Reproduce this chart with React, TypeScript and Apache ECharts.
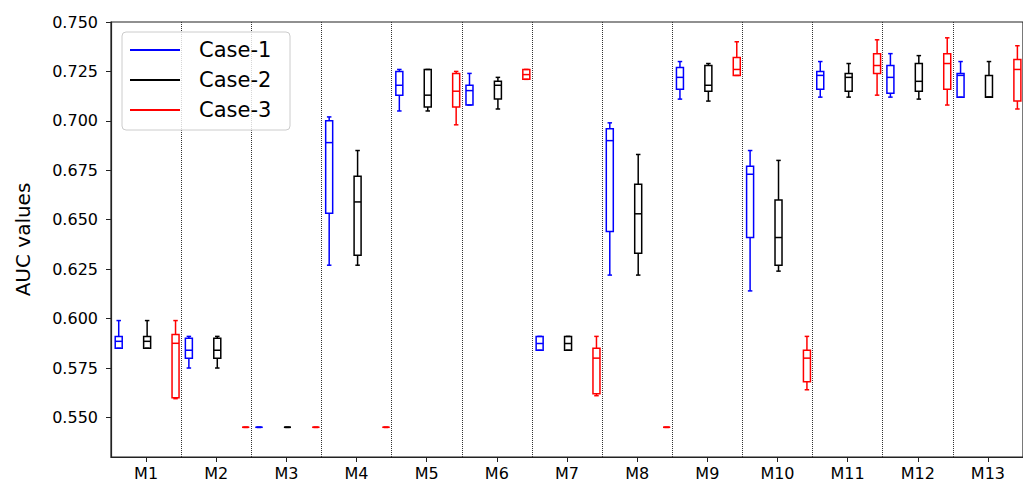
import React, { useEffect, useRef } from "react";
import * as echarts from "echarts";

// Model names along the x axis
const models = ["M1", "M2", "M3", "M4", "M5", "M6", "M7", "M8", "M9", "M10", "M11", "M12", "M13"];

// Y-axis tick values
const yTicks = [0.55, 0.575, 0.6, 0.625, 0.65, 0.675, 0.7, 0.725, 0.75];

// Box statistics per model: [min, q1, median, q3, max]
const case1 = [
  [0.585, 0.585, 0.5885, 0.591, 0.599],
  [0.575, 0.58, 0.584, 0.59, 0.591],
  [0.545, 0.545, 0.545, 0.545, 0.545],
  [0.627, 0.6533, 0.689, 0.7, 0.702],
  [0.705, 0.713, 0.718, 0.725, 0.726],
  [0.708, 0.708, 0.7153, 0.718, 0.724],
  [0.584, 0.584, 0.5874, 0.591, 0.591],
  [0.622, 0.644, 0.69, 0.696, 0.699],
  [0.711, 0.716, 0.722, 0.727, 0.73],
  [0.614, 0.641, 0.673, 0.677, 0.685],
  [0.712, 0.716, 0.723, 0.725, 0.73],
  [0.712, 0.714, 0.722, 0.728, 0.734],
  [0.712, 0.712, 0.723, 0.724, 0.73],
];

const case2 = [
  [0.585, 0.585, 0.5885, 0.591, 0.599],
  [0.575, 0.58, 0.584, 0.59, 0.591],
  [0.545, 0.545, 0.545, 0.545, 0.545],
  [0.627, 0.632, 0.659, 0.672, 0.685],
  [0.705, 0.707, 0.713, 0.726, 0.726],
  [0.706, 0.711, 0.718, 0.72, 0.722],
  [0.584, 0.584, 0.5874, 0.591, 0.591],
  [0.622, 0.633, 0.653, 0.668, 0.683],
  [0.71, 0.715, 0.718, 0.728, 0.729],
  [0.624, 0.627, 0.641, 0.66, 0.68],
  [0.712, 0.715, 0.722, 0.724, 0.729],
  [0.711, 0.715, 0.72, 0.729, 0.733],
  [0.712, 0.712, 0.712, 0.723, 0.73],
];

const case3 = [
  [0.5595, 0.56, 0.5875, 0.592, 0.599],
  [0.545, 0.545, 0.545, 0.545, 0.545],
  [0.545, 0.545, 0.545, 0.545, 0.545],
  [0.545, 0.545, 0.545, 0.545, 0.545],
  [0.698, 0.707, 0.715, 0.724, 0.725],
  [0.721, 0.721, 0.7234, 0.726, 0.726],
  [0.561, 0.562, 0.58, 0.585, 0.591],
  [0.545, 0.545, 0.545, 0.545, 0.545],
  [0.723, 0.723, 0.726, 0.732, 0.74],
  [0.564, 0.568, 0.58, 0.584, 0.591],
  [0.713, 0.724, 0.728, 0.734, 0.741],
  [0.708, 0.716, 0.729, 0.734, 0.742],
  [0.706, 0.71, 0.726, 0.731, 0.738],
];

const caseNames = ["Case-1", "Case-2", "Case-3"];
const caseColors = ["#0000ff", "#000000", "#ff0000"];
const caseStats = [case1, case2, case3];
// horizontal offset of each case inside a model's band (fraction of band width)
const caseOffsets = [-0.39, 0.015, 0.42];

const BOX_W = 7;
const CAP_W = 4.5;
const LW = 1.5;

function boxSeries(idx: number) {
  const color = caseColors[idx];
  const offset = caseOffsets[idx];
  return {
    type: "custom",
    name: caseNames[idx],
    data: caseStats[idx].map((s, i) => [i, ...s]),
    encode: { x: 0, y: [1, 2, 3, 4, 5] },
    renderItem: (params: any, api: any) => {
      const cat = api.value(0);
      const band = api.size([1, 0])[0];
      const cx = api.coord([cat, 0])[0] + offset * band;
      const y = (k: number) => api.coord([cat, api.value(k)])[1];
      const yMin = y(1), yQ1 = y(2), yMed = y(3), yQ3 = y(4), yMax = y(5);
      const style = { stroke: color, lineWidth: LW, fill: "none" };
      const line = (x1: number, y1: number, x2: number, y2: number) => ({
        type: "line",
        shape: { x1, y1, x2, y2 },
        style,
      });
      return {
        type: "group",
        children: [
          line(cx, yMax, cx, yQ3),
          line(cx, yQ1, cx, yMin),
          line(cx - CAP_W / 2, yMax, cx + CAP_W / 2, yMax),
          line(cx - CAP_W / 2, yMin, cx + CAP_W / 2, yMin),
          {
            type: "rect",
            shape: { x: cx - BOX_W / 2, y: yQ3, width: BOX_W, height: Math.max(yQ1 - yQ3, 0) },
            style: { stroke: color, lineWidth: LW, fill: "none" },
          },
          line(cx - BOX_W / 2, yMed, cx + BOX_W / 2, yMed),
        ],
      };
    },
  };
}

export default function App() {
  const ref = useRef<HTMLDivElement>(null);

  useEffect(() => {
    if (!ref.current) return;
    const chart = echarts.init(ref.current, null, { renderer: "svg" });

    const legendX = 122;
    const legendY = 32;
    const legendItems = caseNames.flatMap((name, i) => {
      const cy = legendY + 18 + i * 30;
      return [
        {
          type: "line",
          shape: { x1: legendX + 8, y1: cy, x2: legendX + 58, y2: cy },
          style: { stroke: caseColors[i], lineWidth: 2 },
        },
        {
          type: "text",
          x: legendX + 77,
          y: cy,
          style: {
            text: name,
            fill: "#000",
            font: '21px "DejaVu Sans"',
            textVerticalAlign: "middle",
          },
        },
      ];
    });

    chart.setOption({
      animation: false,
      backgroundColor: "#ffffff",
      textStyle: { fontFamily: "DejaVu Sans" },
      grid: {
        left: 111,
        right: -3,
        top: 22,
        bottom: 23,
        show: true,
        borderColor: "#222",
        borderWidth: 1.2,
        backgroundColor: "transparent",
      },
      xAxis: {
        type: "category",
        data: models,
        boundaryGap: true,
        axisLine: { show: true, lineStyle: { color: "#222", width: 1.2 } },
        axisTick: { show: true, alignWithLabel: true, length: 5, lineStyle: { color: "#222", width: 1 } },
        axisLabel: { color: "#000", fontSize: 16, margin: 8, interval: 0 },
        splitLine: {
          show: true,
          interval: 0,
          lineStyle: { color: "#333", width: 1, type: "dotted" },
        },
      },
      yAxis: {
        type: "value",
        min: 0.53,
        max: 0.75,
        name: "AUC values",
        nameLocation: "middle",
        nameGap: 78,
        nameTextStyle: { fontSize: 20, color: "#000" },
        axisLine: { show: true, lineStyle: { color: "#222", width: 1.2 } },
        axisTick: { show: true, length: 5, customValues: yTicks, lineStyle: { color: "#222", width: 1 } },
        axisLabel: {
          customValues: yTicks,
          color: "#000",
          fontSize: 16,
          margin: 13,
          formatter: (v: number) => v.toFixed(3),
        },
        splitLine: { show: false },
      },
      series: [boxSeries(0), boxSeries(1), boxSeries(2)],
      graphic: [
        {
          type: "group",
          z: 100,
          children: [
            {
              type: "rect",
              z: 100,
              shape: { x: legendX, y: legendY, width: 168, height: 98, r: 4 },
              style: { fill: "rgba(255,255,255,0.8)", stroke: "#cccccc", lineWidth: 1 },
            },
            ...legendItems.map((it) => ({ ...it, z: 101 })),
          ],
        },
      ],
    });

    return () => chart.dispose();
  }, []);

  return (
    <div
      ref={ref}
      style={{ position: "fixed", left: 0, top: 0, width: 1023, height: 481, background: "#fff" }}
    />
  );
}
